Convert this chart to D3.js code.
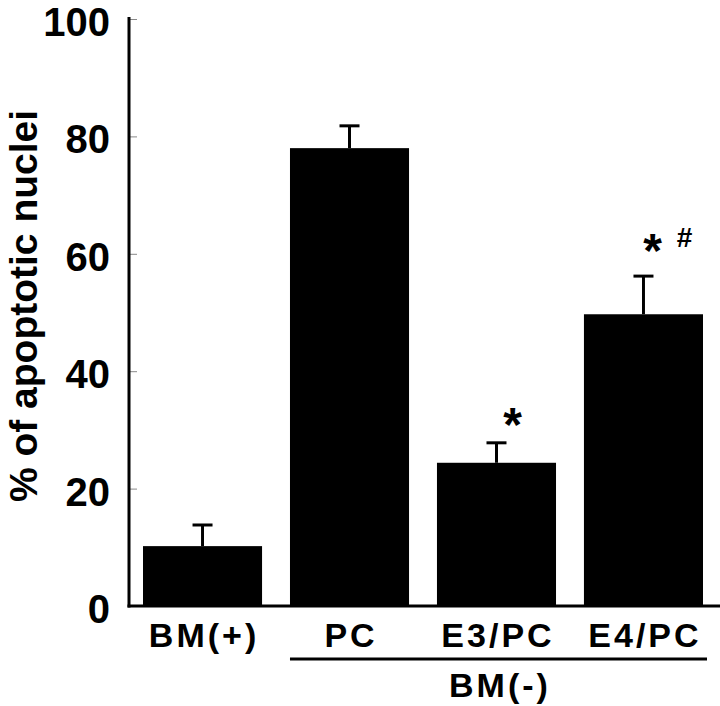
<!DOCTYPE html>
<html lang="en">
<head>
    <meta charset="UTF-8">
    <title>Apoptotic nuclei</title>
    <script type="application/javascript" src="https://cdnjs.cloudflare.com/ajax/libs/d3/7.8.5/d3.min.js"></script>
    <style type="text/css">
        body { margin: 0; background: #fff; }
        text { font-family: "Liberation Sans", Arial, Helvetica, sans-serif; font-weight: bold; fill: #000; }
    </style>
</head>
<body>
<svg id="chart" width="720" height="706"></svg>
<script type="application/javascript">
    (function () {
        // data
        var categories = ['BM(+)', 'PC', 'E3/PC', 'E4/PC'];
        var means = [10.2, 78.0, 24.4, 49.7];
        var errors = [3.6, 3.8, 3.4, 6.5];
        var marks = ['', '', '*', '*'];
        var hashMarks = ['', '', '', '#'];
        var yTicks = [0, 20, 40, 60, 80, 100];
        var groupLabel = 'BM(-)';
        var groupMembers = ['PC', 'E3/PC', 'E4/PC'];

        // where the marks sit relative to their error cap (px)
        var markGap = [0, 0, 21, 28];
        var markShift = [0, 0, 16, 9];

        var svg = d3.select('#chart');
        var axisX = 129;
        var baseY = 606;

        var x = d3.scaleBand()
                .domain(categories)
                .range([143, 703])
                .paddingInner(0.19)
                .paddingOuter(0);

        var y = d3.scaleLinear()
                .domain([0, 100])
                .range([baseY, 19]);

        // y axis ticks (small inward ticks) + labels
        var yAxisG = svg.append('g')
                .attr('transform', 'translate(' + axisX + ',0)')
                .call(d3.axisRight(y).tickValues(yTicks).tickSize(8).tickFormat(''));
        yAxisG.select('.domain').remove();
        yAxisG.selectAll('.tick line').attr('stroke', '#888').attr('stroke-width', 1);

        svg.append('g').selectAll('text.ytick')
                .data(yTicks)
                .enter().append('text')
                .attr('class', 'ytick')
                .attr('x', 110)
                .attr('y', function (d) { return y(d); })
                .attr('dy', '0.425em')
                .attr('text-anchor', 'end')
                .style('font-size', '40px')
                .text(function (d) { return d; });

        // bars
        svg.append('g').selectAll('rect')
                .data(means)
                .enter().append('rect')
                .attr('x', function (d, i) { return x(categories[i]); })
                .attr('y', function (d) { return y(d); })
                .attr('width', x.bandwidth())
                .attr('height', function (d) { return y(0) - y(d); })
                .attr('fill', '#000');

        // error bars
        var errG = svg.append('g').attr('stroke', '#000').attr('stroke-width', 3);
        means.forEach(function (m, i) {
            var cx = x(categories[i]) + x.bandwidth() / 2;
            errG.append('line')
                    .attr('x1', cx).attr('x2', cx)
                    .attr('y1', y(m)).attr('y2', y(m + errors[i]));
            errG.append('line')
                    .attr('x1', cx - 10).attr('x2', cx + 10)
                    .attr('y1', y(m + errors[i])).attr('y2', y(m + errors[i]));
        });

        // significance marks
        means.forEach(function (m, i) {
            var cx = x(categories[i]) + x.bandwidth() / 2;
            var capY = y(m + errors[i]);
            if (marks[i]) {
                // asterisk glyph sits ~0.4em above the baseline
                svg.append('text')
                        .attr('x', cx + markShift[i])
                        .attr('y', capY - markGap[i] + 19)
                        .attr('text-anchor', 'middle')
                        .style('font-size', '48px')
                        .text(marks[i]);
            }
            if (hashMarks[i]) {
                svg.append('text')
                        .attr('x', cx + 41)
                        .attr('y', capY - 29)
                        .attr('text-anchor', 'middle')
                        .style('font-size', '28px')
                        .text(hashMarks[i]);
            }
        });

        // axes lines
        svg.append('line')
                .attr('x1', axisX).attr('x2', axisX)
                .attr('y1', y(100) - 2).attr('y2', baseY + 1.5)
                .attr('stroke', '#000').attr('stroke-width', 3);
        svg.append('line')
                .attr('x1', axisX - 1.5).attr('x2', 720)
                .attr('y1', baseY).attr('y2', baseY)
                .attr('stroke', '#000').attr('stroke-width', 3);

        // category labels
        svg.append('g').selectAll('text.cat')
                .data(categories)
                .enter().append('text')
                .attr('class', 'cat')
                .attr('x', function (d) { return x(d) + x.bandwidth() / 2 + 1.5; })
                .attr('y', 647)
                .attr('text-anchor', 'middle')
                .style('font-size', '34px')
                .style('letter-spacing', '3px')
                .text(function (d) { return d; });

        // group bracket
        var gx1 = x(groupMembers[0]);
        var gx2 = x(groupMembers[groupMembers.length - 1]) + x.bandwidth() + 4;
        svg.append('line')
                .attr('x1', gx1).attr('x2', gx2)
                .attr('y1', 659).attr('y2', 659)
                .attr('stroke', '#000').attr('stroke-width', 3);
        svg.append('text')
                .attr('x', (gx1 + gx2) / 2 + 1.5)
                .attr('y', 697)
                .attr('text-anchor', 'middle')
                .style('font-size', '34px')
                .style('letter-spacing', '3px')
                .text(groupLabel);

        // y axis title
        svg.append('text')
                .attr('text-anchor', 'middle')
                .attr('transform', 'translate(37,306)rotate(-90)')
                .style('font-size', '39px')
                .text('% of apoptotic nuclei');
    })();
</script>
</body>
</html>
